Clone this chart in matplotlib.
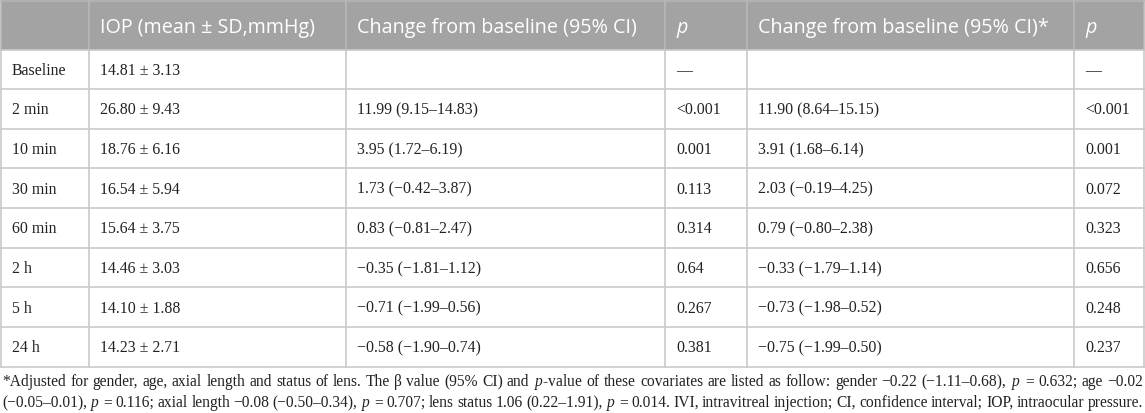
import matplotlib.pyplot as plt
from matplotlib.patches import Rectangle

plt.rcParams['mathtext.fontset'] = 'custom'
plt.rcParams['mathtext.rm'] = 'Liberation Serif'
plt.rcParams['mathtext.it'] = 'Liberation Serif:italic'

# table contents
times = ["Baseline", "2 min", "10 min", "30 min", "60 min", "2 h", "5 h", "24 h"]
iop = ["14.81 ± 3.13", "26.80 ± 9.43", "18.76 ± 6.16", "16.54 ± 5.94",
       "15.64 ± 3.75", "14.46 ± 3.03", "14.10 ± 1.88", "14.23 ± 2.71"]
change = ["", "11.99 (9.15–14.83)", "3.95 (1.72–6.19)", "1.73 (−0.42–3.87)",
          "0.83 (−0.81–2.47)", "−0.35 (−1.81–1.12)", "−0.71 (−1.99–0.56)",
          "−0.58 (−1.90–0.74)"]
p_crude = ["—", "<0.001", "0.001", "0.113", "0.314", "0.64", "0.267", "0.381"]
change_adj = ["", "11.90 (8.64–15.15)", "3.91 (1.68–6.14)", "2.03 (−0.19–4.25)",
              "0.79 (−0.80–2.38)", "−0.33 (−1.79–1.14)", "−0.73 (−1.98–0.52)",
              "−0.75 (−1.99–0.50)"]
p_adj = ["—", "<0.001", "0.001", "0.072", "0.323", "0.656", "0.248", "0.237"]

headers = ["", "IOP (mean ± SD,mmHg)", "Change from baseline (95% CI)", "p",
           "Change from baseline (95% CI)*", "p"]

footnote = [
    "*Adjusted for gender, age, axial length and status of lens. The β value (95% CI) and "
    "$p$-value of these covariates are listed as follow: gender −0.22 (−1.11–0.68), "
    "$p$ = 0.632; age −0.02",
    "(−0.05–0.01), $p$ = 0.116; axial length −0.08 (−0.50–0.34), $p$ = 0.707; lens status "
    "1.06 (0.22–1.91), $p$ = 0.014. IVI, intravitreal injection; CI, confidence interval; "
    "IOP, intraocular pressure.",
]

W, H = 1145, 413
fig = plt.figure(figsize=(W / 100, H / 100), dpi=100)
ax = fig.add_axes([0, 0, 1, 1])
ax.set_xlim(0, W)
ax.set_ylim(H, 0)
ax.axis('off')

col_x = [1, 89, 346, 665, 747, 1074, 1144]
head_h = 49.5
bottom = 366.5
row_h = (bottom - head_h) / len(times)
line_c = '#c9c9c9'
txt_c = '#222222'

# header background
ax.add_patch(Rectangle((col_x[0], 0), col_x[-1] - col_x[0], head_h,
                       facecolor='#a3a3a3', edgecolor='none', zorder=1))

for j, h in enumerate(headers):
    if h:
        ax.text(col_x[j] + 11, 32.5, h, color='white', fontsize=14.2,
                family='Open Sans', style='italic' if h == 'p' else 'normal',
                va='baseline', ha='left', zorder=3)

columns = [times, iop, change, p_crude, change_adj, p_adj]
for j, col in enumerate(columns):
    for i, val in enumerate(col):
        y = head_h + (i + 0.5) * row_h
        ax.text(col_x[j] + 11, y + 5.5, val, color=txt_c, fontsize=11.4,
                family='Liberation Serif', va='baseline', ha='left', zorder=3)

# grid lines
for i in range(len(times) + 1):
    y = head_h + i * row_h
    ax.plot([col_x[0], col_x[-1]], [y, y], color=line_c, lw=1.2, zorder=2)
ax.plot([col_x[0], col_x[-1]], [0.5, 0.5], color='#b5b5b5', lw=1.2, zorder=2)
for x in col_x:
    ax.plot([x, x], [0, head_h], color='#b8b8b8', lw=1.2, zorder=2)
    ax.plot([x, x], [head_h, bottom], color=line_c, lw=1.2, zorder=2)

# footnote, justified between the table edges
renderer = fig.canvas.get_renderer()
inv = ax.transData.inverted()
x_left, x_right = 2, 1143
for k, line in enumerate(footnote):
    y = 386 + k * 21
    words = line.split(' ')
    items = []
    for w in words:
        t = ax.text(0, y, w, color=txt_c, fontsize=11.2,
                    family='Liberation Serif', va='baseline', ha='left')
        bb = t.get_window_extent(renderer)
        (x0, _), (x1, _) = inv.transform([[bb.x0, 0], [bb.x1, 0]])
        items.append((t, x1 - x0))
    gap = (x_right - x_left - sum(wd for _, wd in items)) / (len(items) - 1)
    x = x_left
    for t, wd in items:
        t.set_x(x)
        x += wd + gap

fig.savefig('out.png', dpi=100)
